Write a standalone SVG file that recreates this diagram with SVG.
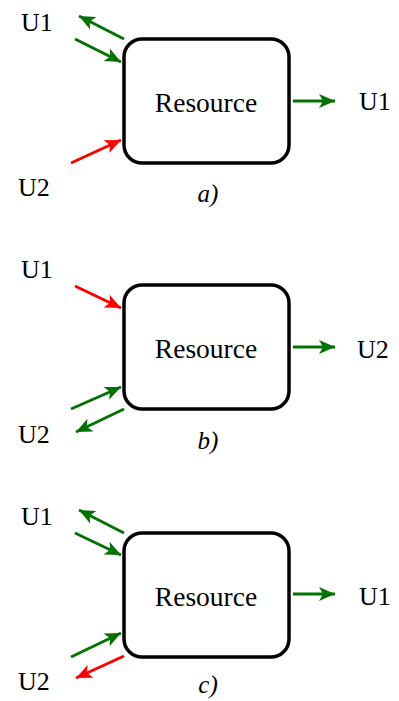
<svg xmlns="http://www.w3.org/2000/svg" width="399" height="701" viewBox="0 0 399 701">
<style>
.box{fill:#fff;stroke:#000;stroke-width:3.5}
.lbl{font-family:"Liberation Serif","Times New Roman",serif;font-size:26px;fill:#000}
.res{font-family:"Liberation Serif","Times New Roman",serif;font-size:27.5px;fill:#000;text-anchor:middle}
.cap{font-family:"Liberation Serif","Times New Roman",serif;font-size:25px;font-style:italic;fill:#000;text-anchor:middle}
.g{stroke:#037203;stroke-width:3;fill:none;marker-end:url(#ag)}
.r{stroke:#ff0000;stroke-width:3;fill:none;marker-end:url(#ar)}
</style>
<defs>
<marker id="ag" markerUnits="userSpaceOnUse" markerWidth="20" markerHeight="16" refX="16" refY="7" orient="auto" viewBox="0 0 20 16" overflow="visible">
<path d="M16,7 L0,0 L4,7 L0,14 Z" fill="#037203"/>
</marker>
<marker id="ar" markerUnits="userSpaceOnUse" markerWidth="20" markerHeight="16" refX="16" refY="7" orient="auto" viewBox="0 0 20 16" overflow="visible">
<path d="M16,7 L0,0 L4,7 L0,14 Z" fill="#ff0000"/>
</marker>
</defs>
<g id="panel-a">
<g id="res-a"><rect class="box" x="124" y="39" width="165" height="124" rx="18"/><text class="res" x="206" y="112">Resource</text></g>
<g id="u1-a"><text class="lbl" x="21" y="31">U1</text></g>
<g id="u2-a"><text class="lbl" x="18" y="196">U2</text></g>
<g id="out-a"><text class="lbl" x="359" y="110">U1</text></g>
<text class="cap" x="208" y="202">a)</text>
</g>
<g id="panel-b">
<g id="res-b"><rect class="box" x="124" y="285" width="165" height="124" rx="18"/><text class="res" x="206" y="358">Resource</text></g>
<g id="u1-b"><text class="lbl" x="21" y="278">U1</text></g>
<g id="u2-b"><text class="lbl" x="18" y="443">U2</text></g>
<g id="out-b"><text class="lbl" x="357" y="358">U2</text></g>
<text class="cap" x="208" y="449">b)</text>
</g>
<g id="panel-c">
<g id="res-c"><rect class="box" x="124" y="533" width="165" height="124" rx="18"/><text class="res" x="206" y="606">Resource</text></g>
<g id="u1-c"><text class="lbl" x="21" y="525">U1</text></g>
<g id="u2-c"><text class="lbl" x="18" y="690">U2</text></g>
<g id="out-c"><text class="lbl" x="359" y="605">U1</text></g>
<text class="cap" x="208" y="693">c)</text>
</g>
<g id="connectors">
<line class="g" x1="124" y1="39" x2="79" y2="16"/>
<line class="g" x1="75" y1="39" x2="121" y2="62"/>
<line class="r" x1="71" y1="163" x2="121" y2="140"/>
<line class="g" x1="293" y1="101" x2="335" y2="101"/>
<line class="r" x1="75" y1="286" x2="121" y2="308"/>
<line class="g" x1="71" y1="409" x2="121" y2="387"/>
<line class="g" x1="124" y1="409" x2="76" y2="432"/>
<line class="g" x1="293" y1="347" x2="335" y2="347"/>
<line class="g" x1="124" y1="533" x2="79" y2="510"/>
<line class="g" x1="75" y1="533" x2="121" y2="555"/>
<line class="g" x1="71" y1="657" x2="121" y2="633"/>
<line class="r" x1="124" y1="656" x2="76" y2="678"/>
<line class="g" x1="293" y1="594" x2="335" y2="594"/>
</g>
</svg>
